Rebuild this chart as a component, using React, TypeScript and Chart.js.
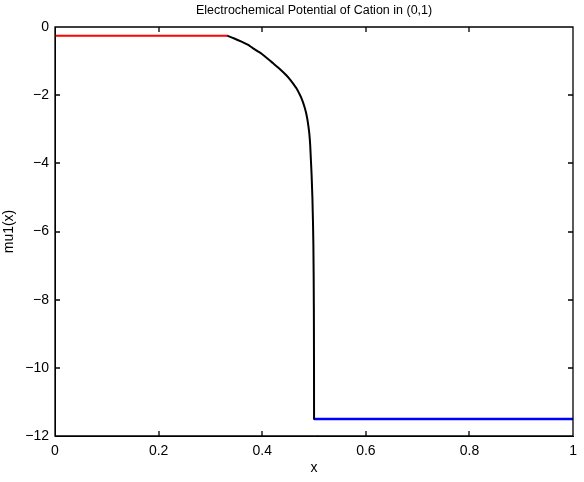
import React, { useEffect, useRef } from "react";
import { Chart, registerables } from "chart.js";

Chart.register(...registerables);

const TITLE = "Electrochemical Potential of Cation in (0,1)";
const X_LABEL = "x";
const Y_LABEL = "mu1(x)";

const X_TICKS = [0, 0.2, 0.4, 0.6, 0.8, 1];
const Y_TICKS = [-12, -10, -8, -6, -4, -2, 0];

// Red segment (left region)
const redX = [0, 0.1, 0.2, 0.3, 0.333];
const redY = [-0.26, -0.26, -0.26, -0.26, -0.26];

// Black transition curve
const blackX = [0.333, 0.345, 0.36, 0.372, 0.381, 0.39, 0.4, 0.413, 0.42, 0.43, 0.438, 0.446, 0.453, 0.46, 0.466, 0.471, 0.476, 0.48, 0.484, 0.487, 0.489, 0.491, 0.4925, 0.4936, 0.4953, 0.4968, 0.4979, 0.4987, 0.4992, 0.4996, 0.4999, 0.5];
const blackY = [-0.26, -0.33, -0.43, -0.52, -0.61, -0.7, -0.8, -0.96, -1.05, -1.18, -1.29, -1.41, -1.53, -1.67, -1.8, -1.94, -2.1, -2.27, -2.48, -2.7, -2.9, -3.15, -3.45, -3.8, -4.35, -5.0, -5.7, -6.4, -7.2, -8.2, -9.8, -11.5];

// Blue segment (right region)
const blueX = [0.5, 0.6, 0.8, 1];
const blueY = [-11.5, -11.5, -11.5, -11.5];

const FONT = '"Liberation Sans", Arial, Helvetica, sans-serif';

const toPts = (xs: number[], ys: number[]) => xs.map((x, i) => ({ x, y: ys[i] }));

const fmt = (v: number) => {
  const s = String(Math.round(v * 1000) / 1000);
  return s.replace("-", "\u2212");
};

const framePlugin = {
  id: "matlabFrame",
  afterDraw(chart: any) {
    const { ctx, chartArea } = chart;
    const L = Math.round(chartArea.left);
    const R = Math.round(chartArea.right);
    const T = Math.round(chartArea.top);
    const B = Math.round(chartArea.bottom);
    const xs = chart.scales.x;
    const ys = chart.scales.y;
    ctx.save();
    ctx.globalAlpha = 1;
    ctx.globalCompositeOperation = "source-over";
    ctx.setLineDash([]);
    ctx.strokeStyle = "#000000";
    ctx.lineWidth = 1.3;
    ctx.beginPath();
    ctx.moveTo(L, T);
    ctx.lineTo(R, T);
    ctx.lineTo(R, B);
    ctx.lineTo(L, B);
    ctx.closePath();
    const tl = 5;
    X_TICKS.forEach((t) => {
      const px = Math.round(xs.getPixelForValue(t));
      ctx.moveTo(px, B);
      ctx.lineTo(px, B - tl);
      ctx.moveTo(px, T);
      ctx.lineTo(px, T + tl);
    });
    Y_TICKS.forEach((t) => {
      const py = Math.round(ys.getPixelForValue(t));
      ctx.moveTo(L, py);
      ctx.lineTo(L + tl, py);
      ctx.moveTo(R, py);
      ctx.lineTo(R - tl, py);
    });
    ctx.stroke();
    ctx.fillStyle = "#000";
    ctx.font = `12.5px ${FONT}`;
    ctx.textAlign = "center";
    ctx.textBaseline = "middle";
    ctx.fillText(TITLE, (chartArea.left + chartArea.right) / 2, 11);
    ctx.restore();
  },
};

export default function App() {
  const ref = useRef<HTMLCanvasElement | null>(null);
  useEffect(() => {
    document.body.style.margin = "0";
    if (!ref.current) return;
    const chart = new Chart(ref.current, {
      type: "scatter",
      data: {
        datasets: [
          {
            data: toPts(redX, redY),
            showLine: true,
            borderColor: "#ff0000",
            borderWidth: 2,
            pointRadius: 0,
            tension: 0,
          },
          {
            data: toPts(blackX, blackY),
            showLine: true,
            borderColor: "#000000",
            borderWidth: 2,
            pointRadius: 0,
            cubicInterpolationMode: "monotone",
            borderJoinStyle: "round",
            borderCapStyle: "round",
          },
          {
            data: toPts(blueX, blueY),
            showLine: true,
            borderColor: "#0000ff",
            borderWidth: 2.5,
            pointRadius: 0,
            tension: 0,
          },
        ],
      },
      options: {
        animation: false,
        responsive: false,
        maintainAspectRatio: false,
        devicePixelRatio: 1,
        layout: { padding: { top: 27, right: 9, left: 0, bottom: 0 } },
        plugins: {
          legend: { display: false },
          tooltip: { enabled: false },
          title: { display: false },
        },
        scales: {
          x: {
            type: "linear",
            position: "bottom",
            min: 0,
            max: 1,
            afterBuildTicks: (s: any) => {
              s.ticks = X_TICKS.map((v) => ({ value: v }));
            },
            afterFit: (s: any) => {
              s.height = 46;
            },
            grid: { display: false, drawTicks: false },
            border: { display: true, color: "#000", width: 1 },
            ticks: {
              color: "#000",
              font: { family: FONT, size: 14 },
              padding: 7,
              maxRotation: 0,
              autoSkip: false,
              callback: (v: any) => fmt(Number(v)),
            },
            title: {
              display: true,
              text: X_LABEL,
              color: "#000",
              font: { family: FONT, size: 14 },
              padding: { top: 0, bottom: 5 },
            },
          },
          y: {
            type: "linear",
            position: "left",
            min: -12,
            max: 0,
            afterBuildTicks: (s: any) => {
              s.ticks = Y_TICKS.map((v) => ({ value: v }));
            },
            afterFit: (s: any) => {
              s.width = 55;
            },
            grid: { display: false, drawTicks: false },
            border: { display: true, color: "#000", width: 1 },
            ticks: {
              color: "#000",
              font: { family: FONT, size: 14 },
              padding: 6,
              autoSkip: false,
              callback: (v: any) => fmt(Number(v)),
            },
            title: {
              display: true,
              text: Y_LABEL,
              color: "#000",
              font: { family: FONT, size: 14 },
              padding: { top: 1, bottom: 0 },
            },
          },
        },
      },
      plugins: [framePlugin],
    } as any);
    return () => chart.destroy();
  }, []);
  return (
    <div style={{ width: 584, height: 482 }}>
      <canvas ref={ref} width={584} height={482} style={{ display: "block", width: 584, height: 482 }} />
    </div>
  );
}
